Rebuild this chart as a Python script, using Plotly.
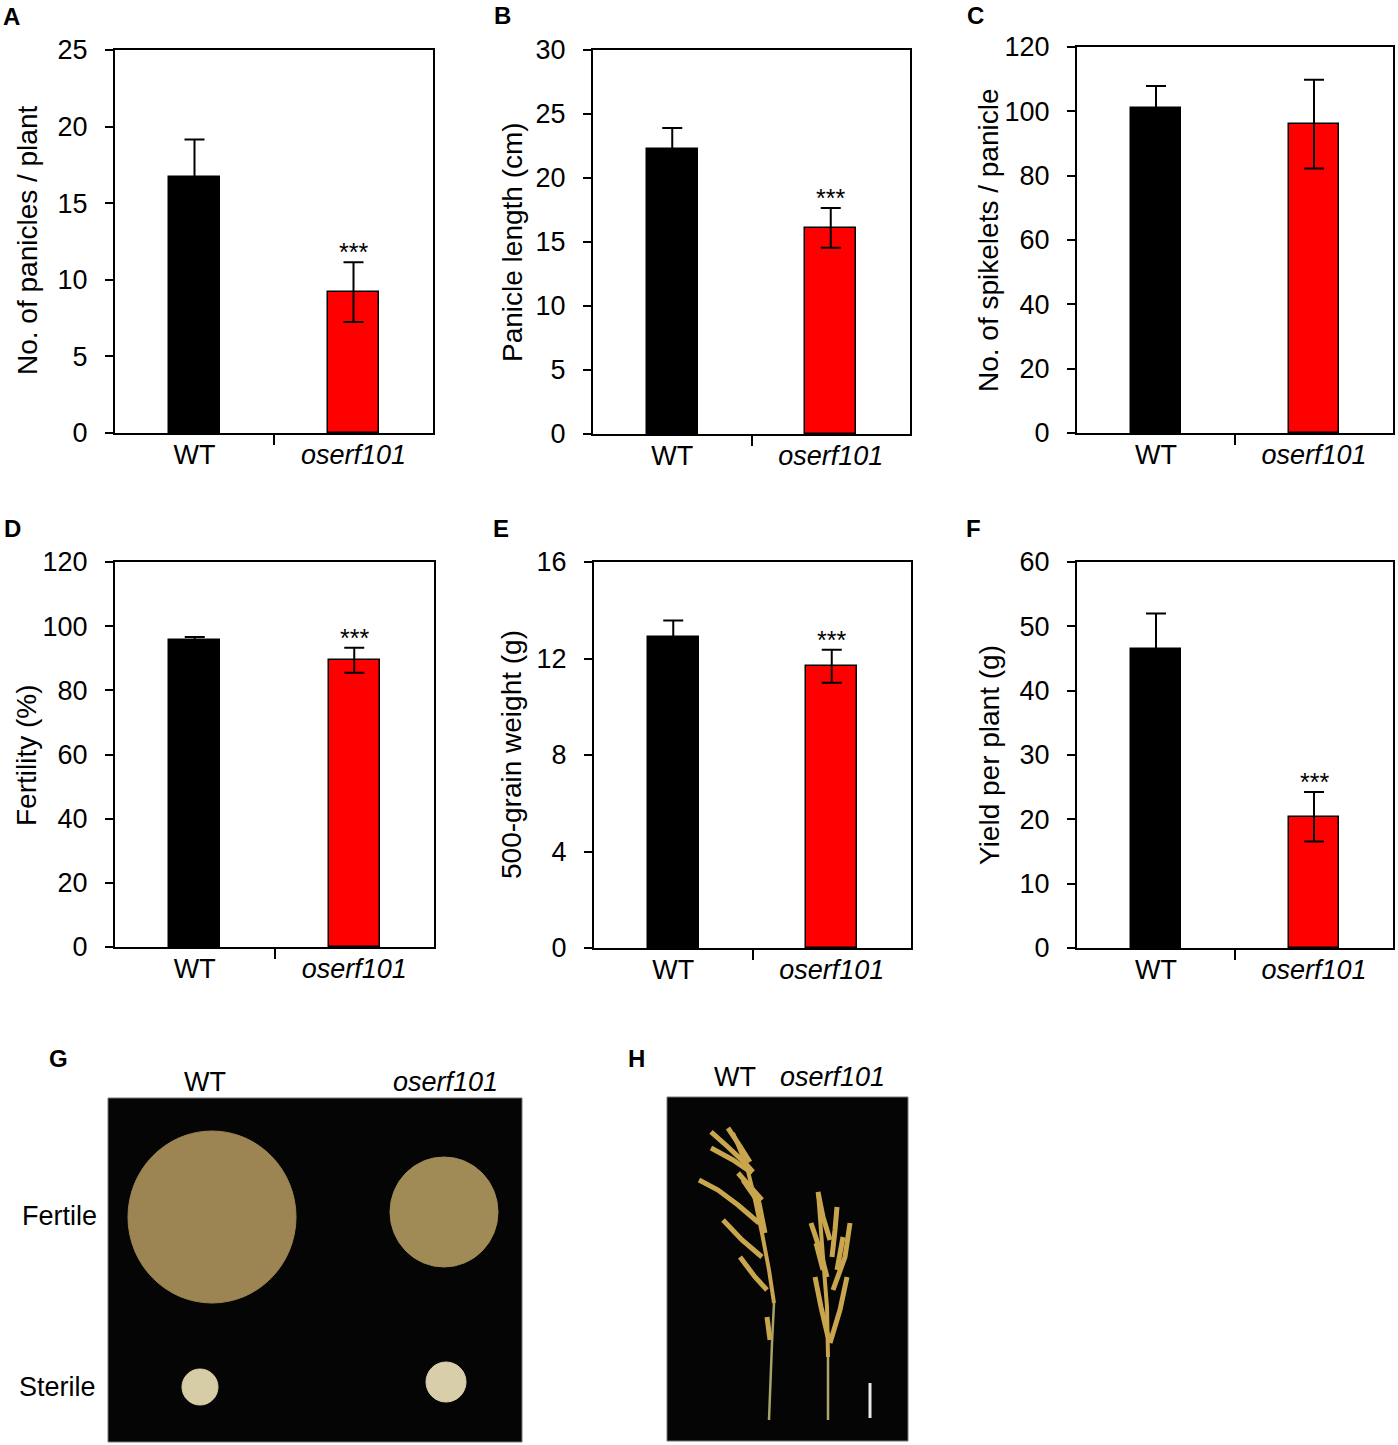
import plotly.graph_objects as go

W, H = 1398, 1445

genotypes = ["WT", "oserf101"]
genotype_labels = ["WT", "<i>oserf101</i>"]

panicles_mean = [16.7, 9.2]
panicles_sd = [2.45, 1.95]
length_mean = [22.3, 16.1]
length_sd = [1.6, 1.55]
spikelets_mean = [100.9, 96.0]
spikelets_sd = [7.0, 13.8]
fertility_mean = [95.8, 89.4]
fertility_sd = [0.8, 3.9]
grain_mean = [12.89, 11.68]
grain_sd = [0.69, 0.68]
yield_mean = [46.4, 20.4]
yield_sd = [5.6, 3.85]

stars = ["***", "***", "", "***", "***", "***"]
y_titles = ["No. of panicles / plant", "Panicle length (cm)", "No. of spikelets / panicle",
            "Fertility (%)", "500-grain weight (g)", "Yield per plant (g)"]
y_max = [25, 30, 120, 120, 16, 60]
y_step = [5, 5, 20, 20, 4, 10]
letters = ["A", "B", "C", "D", "E", "F"]

means = [panicles_mean, length_mean, spikelets_mean, fertility_mean, grain_mean, yield_mean]
sds = [panicles_sd, length_sd, spikelets_sd, fertility_sd, grain_sd, yield_sd]

# panel boxes in pixels: x0, x1, y0 (top), y1 (bottom)
boxes = [(115, 433, 50, 433), (593, 910, 50, 434), (1077, 1393, 47, 433),
         (115, 434, 562, 947), (594, 911, 562, 948), (1077, 1393, 562, 948)]
title_pos = [(27, 241), (512, 242), (988, 240), (26, 755), (511, 755), (989, 755)]
letter_pos = [(11, 17), (502, 16), (975, 16), (12, 528), (501, 528), (973, 528)]

FONT = "Liberation Sans, Arial, sans-serif"
bar_colors = ["#000000", "#ff0000"]


def px(x):
    return x / W


def py(y):
    return 1 - y / H


fig = go.Figure()
layout = dict(template="none", width=W, height=H, margin=dict(l=0, r=0, t=0, b=0, pad=0),
              plot_bgcolor="white", paper_bgcolor="white", showlegend=False,
              font=dict(family=FONT, color="black", size=27), bargap=0)
annotations = []
shapes = []

for i in range(6):
    n = i + 1
    sfx = "" if n == 1 else str(n)
    x0, x1, y0, y1 = boxes[i]
    fig.add_trace(go.Bar(
        x=list(range(len(genotypes))), y=means[i], width=0.32,
        marker=dict(color=bar_colors, line=dict(color="black", width=1.5)),
        error_y=dict(type="data", array=sds[i], color="black", thickness=2, width=10),
        xaxis="x" + sfx, yaxis="y" + sfx, hovertext=genotypes,
    ))
    layout["xaxis" + sfx] = dict(
        domain=[px(x0), px(x1)], anchor="y" + sfx, type="linear",
        range=[-0.5, 1.5], tickmode="array", tickvals=[0, 1], ticktext=genotype_labels,
        ticks="", showline=True, mirror=True, linecolor="black", linewidth=2,
        showgrid=False, zeroline=False, automargin=False,
        tickfont=dict(size=27, family=FONT), ticklabelstandoff=-3,
        minor=dict(tickmode="array", tickvals=[0.5], ticks="outside", ticklen=10,
                   tickwidth=2, tickcolor="black", showgrid=False),
    )
    layout["yaxis" + sfx] = dict(
        domain=[py(y1), py(y0)], anchor="x" + sfx, range=[0, y_max[i]],
        tickmode="linear", dtick=y_step[i], tick0=0, ticks="outside", ticklen=8,
        tickwidth=2, tickcolor="black",
        showline=True, mirror=True, linecolor="black", linewidth=2,
        showgrid=False, zeroline=False, automargin=False,
        tickfont=dict(size=27, family=FONT), ticklabelstandoff=12,
    )
    annotations.append(dict(
        x=px(title_pos[i][0]), y=py(title_pos[i][1]), xref="paper", yref="paper",
        text=y_titles[i], textangle=-90, showarrow=False,
        xanchor="center", yanchor="middle", font=dict(size=28),
    ))
    annotations.append(dict(
        x=px(letter_pos[i][0]), y=py(letter_pos[i][1]), xref="paper", yref="paper",
        text="<b>" + letters[i] + "</b>", showarrow=False,
        xanchor="center", yanchor="middle", font=dict(size=24),
    ))
    if stars[i]:
        annotations.append(dict(
            x=1, y=means[i][1] + sds[i][1], xref="x" + sfx, yref="y" + sfx,
            text=stars[i], showarrow=False, xanchor="center", yanchor="bottom",
            yshift=-6, font=dict(size=25),
        ))


# ---- panel G: grain photo sketch ----
def rect(x0, y0, x1, y1, fill, line="#777777", lw=1, kind="rect"):
    return dict(type=kind, xref="paper", yref="paper", x0=px(x0), x1=px(x1),
                y0=py(y1), y1=py(y0), fillcolor=fill, line=dict(color=line, width=lw),
                layer="above")


shapes.append(rect(108, 1098, 522, 1442, "#050505"))
shapes.append(rect(128, 1131, 296, 1303, "#9c8552", line="#9c8552", kind="circle"))
shapes.append(rect(390, 1157, 498, 1267, "#a08a56", line="#a08a56", kind="circle"))
shapes.append(rect(182, 1369, 218, 1405, "#d6cda6", line="#d6cda6", kind="circle"))
shapes.append(rect(426, 1362, 466, 1402, "#d8cfaa", line="#d8cfaa", kind="circle"))

# ---- panel H: panicle photo sketch ----
shapes.append(rect(667, 1097, 908, 1441, "#050505"))


def path(points, color, lw):
    d = "M " + " L ".join("%.5f,%.5f" % (px(x), py(y)) for x, y in points)
    return dict(type="path", xref="paper", yref="paper", path=d,
                line=dict(color=color, width=lw), layer="above")


gold = "#c9a54e"
wt_branches = [
    [(711, 1132), (728, 1147), (745, 1163), (753, 1172)],
    [(728, 1128), (738, 1143), (750, 1162)],
    [(711, 1148), (733, 1160), (752, 1173)],
    [(699, 1180), (718, 1190), (738, 1205), (759, 1223)],
    [(723, 1220), (742, 1240), (762, 1257)],
    [(740, 1257), (755, 1277), (767, 1290)],
    [(743, 1180), (759, 1203), (765, 1233)],
    [(738, 1173), (762, 1200)],
    [(767, 1317), (770, 1340)],
]
mut_branches = [
    [(818, 1192), (823, 1217), (830, 1240)],
    [(811, 1223), (820, 1250), (827, 1277)],
    [(850, 1223), (845, 1257), (833, 1290)],
    [(815, 1277), (821, 1307), (828, 1337)],
    [(847, 1277), (840, 1310), (830, 1343)],
    [(837, 1207), (835, 1230), (832, 1257)],
    [(843, 1237), (837, 1270)],
    [(816, 1243), (823, 1270)],
]
shapes.append(path([(769, 1420), (772, 1343), (774, 1303)], "#a4a468", 2.5))
shapes.append(path([(774, 1303), (769, 1270), (762, 1233), (755, 1200), (747, 1167), (733, 1133)], gold, 4))
for b in wt_branches:
    shapes.append(path(b, gold, 5))
shapes.append(path([(828, 1420), (828, 1357)], "#b0a46a", 2.5))
shapes.append(path([(828, 1357), (827, 1307), (823, 1257), (818, 1192)], gold, 4))
for b in mut_branches:
    shapes.append(path(b, gold, 5))
shapes.append(path([(870, 1383), (870, 1418)], "#e8e8e8", 3))

photo_labels = [("<b>G</b>", 58, 1058, 24), ("<b>H</b>", 636, 1058, 24),
                ("WT", 205, 1082, 27), ("<i>oserf101</i>", 445, 1082, 27),
                ("Fertile", 59, 1216, 27), ("Sterile", 57, 1387, 27),
                ("WT", 735, 1077, 27), ("<i>oserf101</i>", 832, 1077, 27)]
for txt, x, y, s in photo_labels:
    annotations.append(dict(x=px(x), y=py(y), xref="paper", yref="paper", text=txt,
                            showarrow=False, xanchor="center", yanchor="middle",
                            font=dict(size=s)))

layout["annotations"] = annotations
layout["shapes"] = shapes
fig.update_layout(**layout)
fig.write_html("out.html", config={"displayModeBar": False},
               post_script="document.body.style.margin='0px';")
